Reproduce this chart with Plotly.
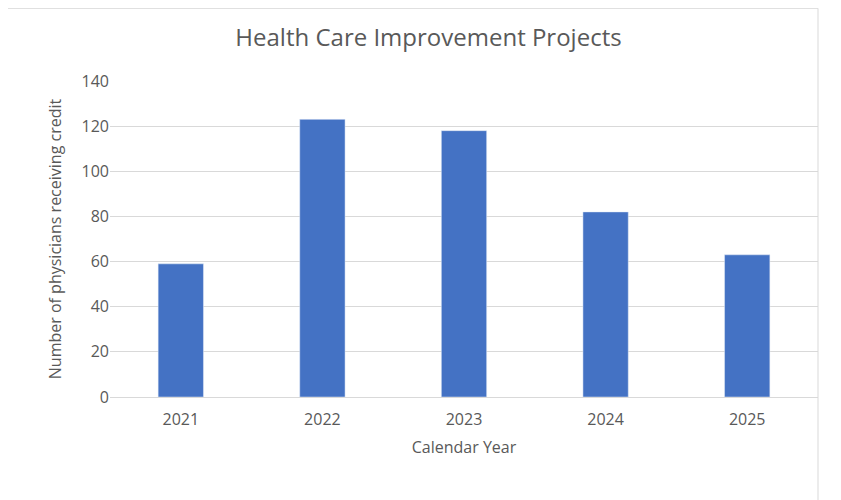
import plotly.graph_objects as go

years = ["2021", "2022", "2023", "2024", "2025"]
physicians = [59, 123, 118, 82, 63]
y_ticks = [0, 20, 40, 60, 80, 100, 120, 140]

fig = go.Figure(go.Bar(x=years, y=physicians, marker_color="#4472C4"))

fig.update_layout(
    width=841, height=500,
    title=dict(text="Health Care Improvement Projects", x=0.5, xanchor="center",
               y=0.94, yanchor="middle", font=dict(size=24, color="#595959")),
    font=dict(family="Open Sans, DejaVu Sans", size=16, color="#595959"),
    paper_bgcolor="white", plot_bgcolor="white",
    margin=dict(l=102, r=31, t=73, b=111),
    bargap=0.68,
    showlegend=False,
    xaxis=dict(title=dict(text="Calendar Year", font=dict(size=16), standoff=12),
               showline=True, linecolor="#D9D9D9", ticks="outside",
               tickcolor="white", ticklen=8),
    yaxis=dict(title=dict(text="Number of physicians receiving credit", font=dict(size=16)),
               range=[0, 140], tickvals=y_ticks, gridcolor="#D9D9D9",
               zeroline=False, ticks=""),
    shapes=[dict(type="rect", xref="paper", yref="paper", x0=-0.146, x1=1.0,
                 y0=-0.35, y1=1.23, line=dict(color="#D9D9D9", width=1))],
)

fig.write_html("out.html")
